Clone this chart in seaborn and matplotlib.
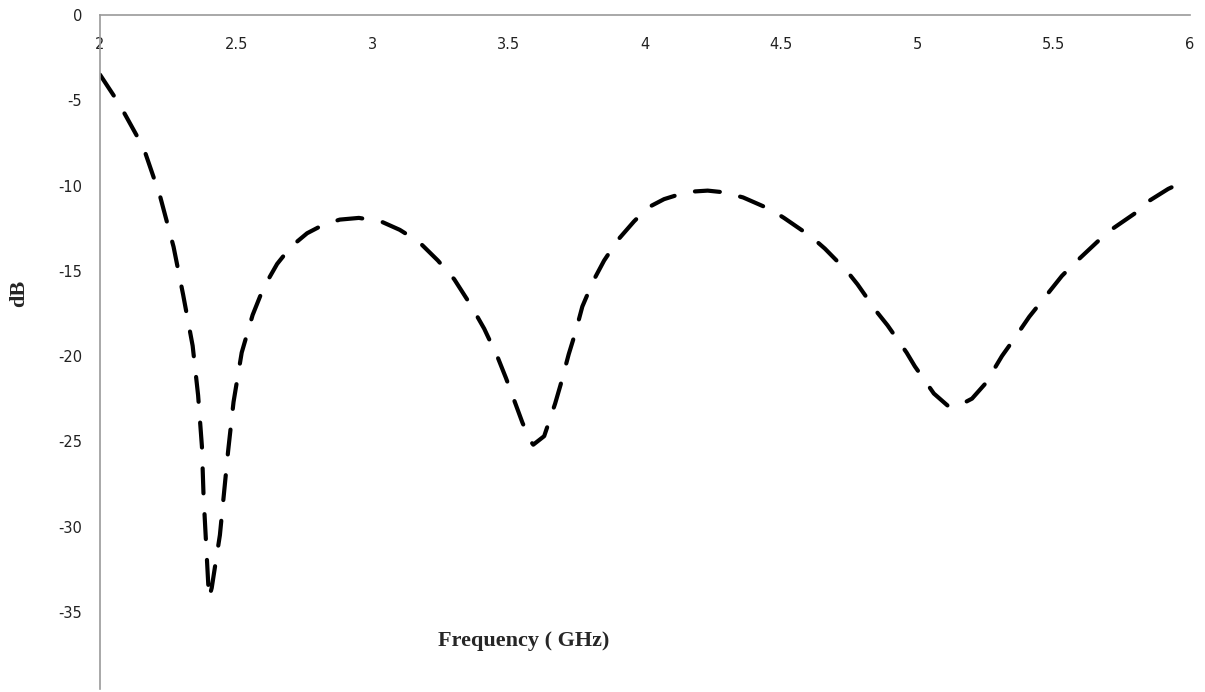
import matplotlib
matplotlib.use("Agg")
import matplotlib.pyplot as plt
import seaborn as sns
import pandas as pd

# Data
freq_ghz = [2.00, 2.07, 2.16, 2.22, 2.27, 2.305, 2.34, 2.36, 2.374, 2.38, 2.39, 2.40,
            2.41, 2.44, 2.47, 2.49, 2.52, 2.56, 2.60, 2.65, 2.70, 2.76, 2.82, 2.88,
            2.95, 3.03, 3.10, 3.17, 3.24, 3.30, 3.36, 3.41, 3.46, 3.49, 3.52, 3.55,
            3.58, 3.59, 3.63, 3.67, 3.69, 3.72, 3.745, 3.77, 3.81, 3.85, 3.90, 3.96,
            4.01, 4.07, 4.13, 4.18, 4.23, 4.29, 4.36, 4.46, 4.51, 4.61, 4.66, 4.74, 4.78,
            4.85, 4.89, 4.96, 4.99, 5.06, 5.11, 5.14, 5.20, 5.25, 5.31, 5.35, 5.41,
            5.46, 5.53, 5.58, 5.66, 5.71, 5.81, 5.85, 5.92, 5.96]
s11_db = [-3.5, -5.2, -7.8, -10.6, -13.6, -16.4, -19.4, -22.3, -25.3, -28.2, -31.2, -34.2,
          -33.6, -30.5, -25.6, -22.7, -19.8, -17.6, -16.0, -14.6, -13.6, -12.8, -12.3, -12.0,
          -11.9, -12.1, -12.6, -13.3, -14.4, -15.5, -17.0, -18.4, -20.1, -21.3, -22.6, -23.9,
          -25.0, -25.2, -24.7, -22.8, -21.7, -19.9, -18.6, -17.1, -15.6, -14.4, -13.2, -12.1,
          -11.3, -10.8, -10.5, -10.35, -10.3, -10.4, -10.7, -11.4, -11.9, -13.0, -13.7, -15.0,
          -15.8, -17.4, -18.2, -19.8, -20.6, -22.2, -22.9, -23.0, -22.5, -21.6, -20.0, -19.1,
          -17.7, -16.7, -15.3, -14.5, -13.3, -12.6, -11.5, -10.9, -10.2, -9.9]

x_ticks = [2, 2.5, 3, 3.5, 4, 4.5, 5, 5.5, 6]
x_tick_labels = ["2", "2.5", "3", "3.5", "4", "4.5", "5", "5.5", "6"]
y_ticks = [0, -5, -10, -15, -20, -25, -30, -35]
y_tick_labels = ["0", "-5", "-10", "-15", "-20", "-25", "-30", "-35"]

df = pd.DataFrame({"Frequency (GHz)": freq_ghz, "dB": s11_db})

sns.set_theme(style="white")
plt.rcParams["font.family"] = ["DejaVu Sans"]

W, H = 1205, 692
fig = plt.figure(figsize=(W / 100, H / 100), dpi=100)
ax = fig.add_axes([100 / W, 1 - 688.5 / H, (1190 - 100) / W, (688.5 - 15) / H])

sns.lineplot(data=df, x="Frequency (GHz)", y="dB", ax=ax, color="black",
             linewidth=3, sort=False, estimator=None)
line = ax.lines[0]
line.set_linestyle((0, (6.0, 5.0)))
line.set_dash_capstyle("round")
line.set_dash_joinstyle("round")

ax.set_xlim(2, 6)
ax.set_ylim(-39.5, 0)
ax.set_xticks(x_ticks)
ax.set_xticklabels(x_tick_labels)
ax.set_yticks(y_ticks)
ax.set_yticklabels(y_tick_labels)
ax.set_xlabel("")
ax.set_ylabel("")

for side in ["top", "right"]:
    ax.spines[side].set_visible(False)
ax.spines["bottom"].set_position(("data", 0))
ax.spines["bottom"].set_color("#9a9a9a")
ax.spines["bottom"].set_linewidth(1.2)
ax.spines["left"].set_color("#9a9a9a")
ax.spines["left"].set_linewidth(1.2)

ax.tick_params(axis="x", length=0, pad=15.5, labelsize=10.5, labelcolor="#222222")
ax.tick_params(axis="y", length=0, pad=13, labelsize=10.5, labelcolor="#222222")
ax.grid(False)

fig.text(524 / W, 1 - 641 / H, "Frequency ( GHz)", ha="center", va="center",
         fontsize=16, fontweight="bold", family=["Liberation Serif", "DejaVu Serif"])
fig.text(19 / W, 1 - 293 / H, "dB", ha="center", va="center", rotation=90,
         fontsize=16, fontweight="bold", family=["Liberation Serif", "DejaVu Serif"])

fig.savefig("out.png", dpi=100, facecolor="white")
